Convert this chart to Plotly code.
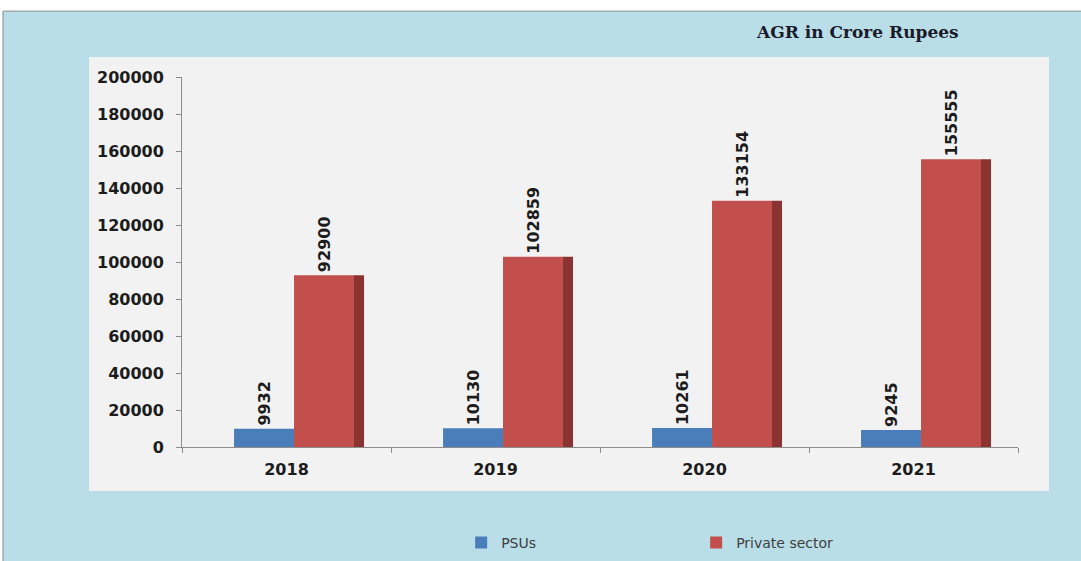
import plotly.graph_objects as go

years = ["2018", "2019", "2020", "2021"]
psus = [9932, 10130, 10261, 9245]
private_sector = [92900, 102859, 133154, 155555]
y_ticks = [0, 20000, 40000, 60000, 80000, 100000, 120000, 140000, 160000, 180000, 200000]

BLUE = "#4a7ebb"
RED = "#c24f4c"
RED_SIDE = "#8a3331"
TXT = "#1c1c1c"
lab_font = dict(family="DejaVu Sans", size=16, color=TXT, weight="bold")
PAD = "\u00a0\u00a0"

fig = go.Figure()
fig.add_trace(go.Bar(
    x=years, y=psus, name="PSUs", marker=dict(color=BLUE, line=dict(width=0)),
    offset=-0.251, width=0.287,
    text=[str(v) + PAD for v in psus], textposition="outside", textangle=-90,
    textfont=lab_font, cliponaxis=False, constraintext="none",
))
fig.add_trace(go.Bar(
    x=years, y=private_sector, name="Private sector", marker=dict(color=RED, line=dict(width=0)),
    offset=0.036, width=0.287,
    text=[str(v) + PAD for v in private_sector], textposition="outside", textangle=-90,
    textfont=lab_font, cliponaxis=False, constraintext="none",
))
fig.add_trace(go.Bar(
    x=years, y=private_sector, showlegend=False, hoverinfo="skip",
    marker=dict(color=RED_SIDE, line=dict(width=0)),
    offset=0.323, width=0.048,
))

shapes = [
    # outer light-blue frame
    dict(type="rect", xref="paper", yref="paper", x0=-0.2141, x1=1.1, y0=-0.4, y1=1.178,
         fillcolor="#b9dee7", line=dict(color="#7f8c90", width=1), layer="below"),
    # inner grey plot panel
    dict(type="rect", xref="paper", yref="paper", x0=-0.1112, x1=1.0371, y0=-0.1189, y1=1.054,
         fillcolor="#f2f2f2", line=dict(width=0), layer="below"),
]

fig.update_layout(
    width=1081, height=561,
    margin=dict(l=182, r=63, t=77, b=114, autoexpand=False),
    paper_bgcolor="white", plot_bgcolor="rgba(0,0,0,0)",
    barmode="overlay",
    shapes=shapes,
    showlegend=True,
    legend=dict(orientation="h", x=0.615, xanchor="center", y=-0.259, yanchor="middle",
                font=dict(family="DejaVu Sans", size=14, color="#404040"),
                entrywidth=190, bgcolor="rgba(0,0,0,0)"),
    annotations=[dict(text="<b>AGR in Crore Rupees</b>", xref="paper", yref="paper",
                      x=0.8086, y=1.1216, showarrow=False, xanchor="center", yanchor="middle",
                      font=dict(family="DejaVu Serif", size=17, color="#1a1a2a"))],
    xaxis=dict(type="category", range=[-0.5, 3.5], showgrid=False, showline=True,
               linecolor="#8c8c8c", linewidth=1, ticks="outside", tickson="boundaries",
               ticklen=5, tickcolor="#8c8c8c", tickfont=lab_font, ticklabelstandoff=8),
    yaxis=dict(range=[0, 200000], tickvals=y_ticks, tickformat="d", showgrid=False,
               zeroline=False, showline=True, linecolor="#8c8c8c", linewidth=1,
               ticks="outside", ticklen=5, tickcolor="#8c8c8c", tickfont=lab_font,
               ticklabelstandoff=9),
)

fig.write_html("out.html", config={"displayModeBar": False},
               post_script="document.body.style.margin='0';")
